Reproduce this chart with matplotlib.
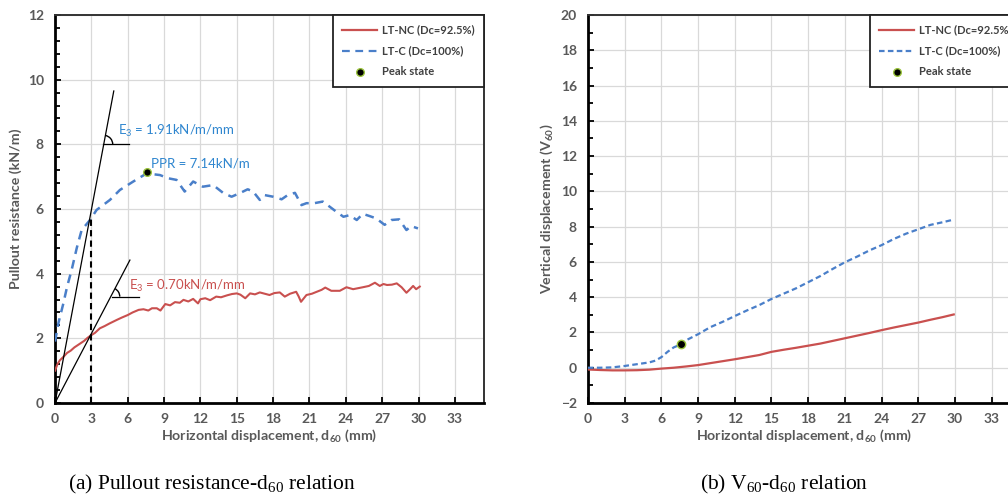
import numpy as np
import matplotlib
matplotlib.use("Agg")
import matplotlib.pyplot as plt
from matplotlib.patches import Arc
from matplotlib.lines import Line2D
from matplotlib.ticker import MultipleLocator
import matplotlib.transforms as mtransforms

plt.rcParams['font.family'] = ['Lato', 'DejaVu Sans']
plt.rcParams['mathtext.fontset'] = 'custom'
plt.rcParams['mathtext.rm'] = 'Liberation Serif'
plt.rcParams['mathtext.sf'] = 'Lato'
plt.rcParams['mathtext.bf'] = 'Lato:bold'

# ---------------- data ----------------
# (a) pullout resistance vs d60
nc_x = [0, 0.2, 0.4, 0.7, 1.0, 1.3, 1.6, 2.0, 2.4, 2.7, 3.0, 3.3, 3.7, 4.1, 4.5, 5.1, 5.5, 6.0,
        6.4, 6.9, 7.3, 7.7, 8.0, 8.4, 8.7, 9.1, 9.5, 9.9, 10.3, 10.6, 11.0, 11.4, 11.8, 12.0,
        12.4, 12.8, 13.3, 13.7, 14.2, 14.6, 15.0, 15.3, 15.7, 16.1, 16.5, 16.9, 17.3, 17.7,
        18.1, 18.55, 18.96, 19.4, 19.9, 20.1, 20.3, 20.75, 21.2, 21.6, 22.0, 22.3, 22.8, 23.5,
        24.05, 24.6, 25.0, 25.4, 25.9, 26.4, 26.8, 27.1, 27.4, 27.8, 28.2, 28.6, 29.0, 29.3,
        29.55, 29.8, 30.1]
nc_y = [1.0, 1.2, 1.32, 1.43, 1.55, 1.62, 1.72, 1.82, 1.92, 2.02, 2.10, 2.17, 2.31, 2.38, 2.46,
        2.57, 2.64, 2.72, 2.80, 2.88, 2.90, 2.86, 2.93, 2.93, 2.86, 3.06, 3.02, 3.12, 3.10, 3.19,
        3.14, 3.22, 3.08, 3.21, 3.24, 3.18, 3.29, 3.27, 3.33, 3.37, 3.39, 3.35, 3.24, 3.39, 3.36,
        3.42, 3.38, 3.34, 3.40, 3.42, 3.29, 3.38, 3.44, 3.30, 3.13, 3.34, 3.38, 3.44, 3.50, 3.57,
        3.47, 3.47, 3.58, 3.52, 3.55, 3.58, 3.62, 3.72, 3.62, 3.68, 3.65, 3.66, 3.70, 3.58, 3.41,
        3.52, 3.62, 3.52, 3.60]

c_x = [0, 0.3, 0.69, 1.0, 1.37, 1.8, 2.2, 2.89, 3.43, 4.53, 5.36, 6.46, 7.56, 8.66, 9.34, 10.03,
       10.7, 11.4, 12.2, 13.05, 13.9, 14.57, 15.25, 15.9, 16.35, 16.9, 17.3, 18.0, 18.7, 19.2,
       19.8, 20.34, 20.75, 21.4, 22.1, 22.67, 23.2, 23.8, 24.3, 24.9, 25.4, 25.97, 26.5, 27.2,
       27.76, 28.4, 29.0, 29.4, 29.95]
c_y = [1.9, 2.5, 3.08, 3.6, 4.11, 4.8, 5.35, 5.66, 5.97, 6.28, 6.59, 6.85, 7.10, 7.05, 6.95, 6.90,
       6.54, 6.85, 6.69, 6.74, 6.49, 6.38, 6.49, 6.61, 6.54, 6.28, 6.43, 6.38, 6.30, 6.43, 6.50,
       6.12, 6.18, 6.18, 6.23, 6.07, 5.92, 5.76, 5.81, 5.66, 5.85, 5.78, 5.71, 5.51, 5.66, 5.68,
       5.35, 5.47, 5.40]

peak_a = (7.56, 7.14)

# secant lines (E3) and construction guides
e3c_line_x = [0, 4.85]
e3c_line_y = [0, 9.65]
e3c_flat_x = [3.98, 6.1]
e3c_flat_y = [8.0, 8.0]
e3nc_line_x = [0, 6.18]
e3nc_line_y = [0, 4.42]
e3nc_flat_x = [4.67, 6.95]
e3nc_flat_y = [3.29, 3.29]
guide_x = [3, 3]
guide_y = [0, 5.7]

# (b) V60 vs d60
vnc_x = [0, 1, 2, 3, 4, 5, 6, 7, 8, 9, 10, 11, 12, 13, 14, 15, 16, 17, 18, 19, 20, 21, 22, 23,
         24, 25, 26, 27, 28, 29, 29.9]
vnc_y = [-0.1, -0.13, -0.15, -0.15, -0.14, -0.11, -0.05, 0.0, 0.07, 0.15, 0.26, 0.37, 0.48, 0.6,
         0.72, 0.9, 1.02, 1.13, 1.25, 1.37, 1.52, 1.67, 1.82, 1.97, 2.13, 2.28, 2.42, 2.56, 2.72,
         2.87, 3.02]
vc_x = [0, 1, 2, 3, 4, 5, 5.5, 6, 6.5, 7, 7.6, 8, 9, 10, 11, 12, 13, 14, 15, 16, 17, 18, 19, 20,
        21, 22, 23, 24, 25, 26, 27, 28, 29, 29.9]
vc_y = [0.0, 0.0, 0.02, 0.1, 0.2, 0.3, 0.4, 0.6, 0.9, 1.15, 1.33, 1.55, 1.9, 2.3, 2.6, 2.93,
        3.25, 3.55, 3.9, 4.2, 4.5, 4.85, 5.2, 5.6, 5.98, 6.3, 6.65, 6.95, 7.3, 7.6, 7.85, 8.1,
        8.25, 8.4]
peak_b = (7.6, 1.33)

labels = ["LT-NC (Dc=92.5%)", "LT-C (Dc=100%)", "Peak state"]

RED = "#C9504F"
BLUE = "#4A7FC9"
TXT_BLUE = "#2F86CF"
GREY = "#595959"
GRID = "#D9D9D9"

fig = plt.figure(figsize=(10.08, 4.97), dpi=100)
W, H = 1008, 497
ax1 = fig.add_axes([55 / W, (H - 403) / H, 429 / W, 388 / H])
ax2 = fig.add_axes([588 / W, (H - 403) / H, 433 / W, 388 / H])


def style(ax, ymin, ymax, ymaj, ymin_step, ylabel):
    ax.set_xlim(0, 35.4)
    ax.set_ylim(ymin, ymax)
    ax.xaxis.set_major_locator(MultipleLocator(3))
    ax.yaxis.set_major_locator(MultipleLocator(ymaj))
    ax.yaxis.set_minor_locator(MultipleLocator(ymin_step))
    ax.grid(True, which='major', color=GRID, lw=0.9)
    ax.set_axisbelow(True)
    ax.tick_params(which='both', direction='in', colors='black', labelcolor=GREY,
                   labelsize=10, length=4, width=1.3)
    ax.tick_params(axis='y', which='minor', length=3.5)
    ax.tick_params(axis='x', pad=7)
    ax.tick_params(axis='y', pad=8)
    for lab in ax.get_xticklabels() + ax.get_yticklabels():
        lab.set_fontweight('bold')
    for s in ['left', 'bottom']:
        ax.spines[s].set_linewidth(2.0)
        ax.spines[s].set_color('black')
    for s in ['top', 'right']:
        ax.spines[s].set_linewidth(1.4)
        ax.spines[s].set_color('#333333')
    ax.set_xlabel(r"Horizontal displacement, d$_{\mathbf{60}}$ (mm)", fontsize=10.2,
                  fontweight='bold', color=GREY, labelpad=2)
    ax.set_ylabel(ylabel, fontsize=10.2, fontweight='bold', color=GREY, labelpad=4)


style(ax1, 0, 12, 2, 0.4, "Pullout resistance (kN/m)")
style(ax2, -2, 20, 2, 1, r"Vertical displacement (V$_{\mathbf{60}}$)")

# ----- panel (a) -----
ax1.plot(nc_x, nc_y, color=RED, lw=1.5, zorder=3)
ax1.plot(c_x, c_y, color=BLUE, lw=1.8, dashes=(3.5, 2.5), zorder=3)
ax1.plot(*peak_a, 'o', ms=5.5, mfc='black', mec='#9BC53D', mew=1.0, zorder=5)

ax1.plot(e3c_line_x, e3c_line_y, color='black', lw=0.9, zorder=4)
ax1.plot(e3c_flat_x, e3c_flat_y, color='black', lw=0.9, zorder=4)
ax1.plot(e3nc_line_x, e3nc_line_y, color='black', lw=0.9, zorder=4)
ax1.plot(e3nc_flat_x, e3nc_flat_y, color='black', lw=0.9, zorder=4)
ax1.plot(guide_x, guide_y, color='black', lw=1.5, dashes=(3, 2), zorder=4)


def angle_arc(ax, cx, cy, lx, ly, r_px):
    p0 = ax.transData.transform((cx, cy))
    p1 = ax.transData.transform((lx, ly))
    ang = np.degrees(np.arctan2(p1[1] - p0[1], p1[0] - p0[0]))
    r_in = r_px / fig.dpi
    trans = fig.dpi_scale_trans + mtransforms.ScaledTranslation(cx, cy, ax.transData)
    arc = Arc((0, 0), 2 * r_in, 2 * r_in, theta1=0, theta2=ang, transform=trans,
              color='black', lw=1.0, zorder=4)
    ax.add_patch(arc)


angle_arc(ax1, 8.0 / (e3c_line_y[1] / e3c_line_x[1]), 8.0, e3c_line_x[1], e3c_line_y[1], 9)
angle_arc(ax1, 3.29 / (e3nc_line_y[1] / e3nc_line_x[1]), 3.29, e3nc_line_x[1], e3nc_line_y[1], 9)

ax1.text(5.2, 8.4, r"E$_{\mathsf{3}}$ = 1.91kN/m/mm", color=TXT_BLUE, fontsize=9.5,
         va='center', ha='left')
ax1.text(7.95, 7.42, "PPR = 7.14kN/m", color=TXT_BLUE, fontsize=9.5, va='center', ha='left')
ax1.text(6.1, 3.62, r"E$_{\mathsf{3}}$ = 0.70kN/m/mm", color=RED, fontsize=9.5,
         va='center', ha='left')

# ----- panel (b) -----
ax2.plot(vnc_x, vnc_y, color=RED, lw=1.6, zorder=3)
ax2.plot(vc_x, vc_y, color=BLUE, lw=1.6, dashes=(2.5, 1.5), zorder=3)
ax2.plot(*peak_b, 'o', ms=6, mfc='black', mec='#9BC53D', mew=1.0, zorder=5)


def legend(ax, dash):
    handles = [Line2D([], [], color=RED, lw=1.6),
               Line2D([], [], color=BLUE, lw=1.6, dashes=dash),
               Line2D([], [], ls='none', marker='o', ms=5.5, mfc='black', mec='#9BC53D', mew=1.0)]
    leg = ax.legend(handles, labels, loc='upper right', bbox_to_anchor=(1, 1), borderaxespad=0,
                    fancybox=False, framealpha=1, edgecolor='#222222',
                    handlelength=3.1, handletextpad=0.45, labelspacing=0.9, borderpad=0.85,
                    prop={'weight': 'bold', 'size': 8})
    leg.get_frame().set_linewidth(1.3)
    for t in leg.get_texts():
        t.set_color('#404040')
    leg.set_zorder(10)


legend(ax1, (3.5, 2.5))
legend(ax2, (2.5, 1.5))

# captions
fig.text(212 / W, 1 - 484 / H, r"(a) Pullout resistance-d$_{\mathrm{60}}$ relation",
         family='Liberation Serif', fontsize=15.5, ha='center', va='center')
fig.text(784 / W, 1 - 484 / H, r"(b) V$_{\mathrm{60}}$-d$_{\mathrm{60}}$ relation",
         family='Liberation Serif', fontsize=15.5, ha='center', va='center')

fig.savefig("out.png", dpi=100)
